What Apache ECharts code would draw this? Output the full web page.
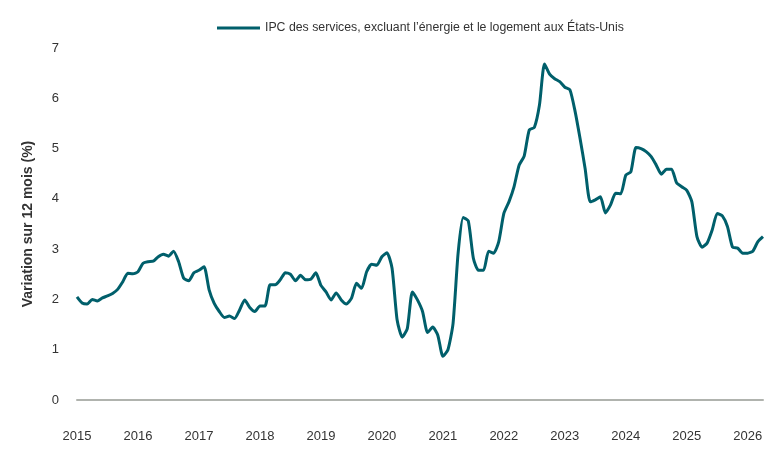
<!DOCTYPE html>
<html>
<head>
<meta charset="utf-8">
<script src="https://cdn.jsdelivr.net/npm/echarts@6/dist/echarts.min.js"></script>
<style>
  html, body { margin: 0; padding: 0; background: #fff; }
  #chart { width: 783px; height: 459px; }
</style>
</head>
<body>
<div id="chart"></div>
<script>
// Monthly values, Jan 2015 .. Apr 2026
const startYear = 2015;
const seriesName = 'IPC des services, excluant l\u2019énergie et le logement aux États-Unis';
const yearLabels = ['2015', '2016', '2017', '2018', '2019', '2020', '2021', '2022', '2023', '2024', '2025', '2026'];

const values = [
  2.05, 1.93, 1.91, 2.00, 1.97, 2.03, 2.07, 2.12, 2.20, 2.35, 2.52, 2.51,
  2.55, 2.72, 2.75, 2.76, 2.85, 2.90, 2.86, 2.96, 2.75, 2.42, 2.37, 2.53,
  2.58, 2.65, 2.19, 1.92, 1.76, 1.64, 1.67, 1.62, 1.79, 1.99, 1.84, 1.76,
  1.87, 1.87, 2.29, 2.29, 2.39, 2.53, 2.50, 2.37, 2.48, 2.39, 2.40, 2.53,
  2.28, 2.15, 1.99, 2.13, 1.99, 1.91, 2.02, 2.32, 2.22, 2.55, 2.70, 2.68,
  2.85, 2.93, 2.62, 1.59, 1.25, 1.42, 2.15, 1.99, 1.76, 1.34, 1.45, 1.29,
  0.87, 1.00, 1.52, 2.92, 3.63, 3.56, 2.82, 2.58, 2.58, 2.96, 2.92, 3.15,
  3.71, 3.94, 4.24, 4.67, 4.85, 5.37, 5.42, 5.86, 6.68, 6.48, 6.39, 6.33,
  6.22, 6.17, 5.75, 5.20, 4.60, 3.94, 3.98, 4.04, 3.72, 3.88, 4.11, 4.10,
  4.47, 4.54, 5.02, 5.00, 4.94, 4.84, 4.67, 4.49, 4.59, 4.59, 4.32, 4.24,
  4.17, 3.94, 3.25, 3.04, 3.12, 3.38, 3.71, 3.66, 3.45, 3.04, 3.02, 2.92,
  2.92, 2.96, 3.15, 3.25
];

// one category per month, labelled with the year in January
const months = values.map((v, i) => {
  const y = startYear + Math.floor(i / 12);
  const m = (i % 12) + 1;
  return y + '-' + String(m).padStart(2, '0');
});

const font = '"Liberation Sans", Arial, sans-serif';
const chart = echarts.init(document.getElementById('chart'));

chart.setOption({
  animation: false,
  color: ['#005f6b'],
  textStyle: { fontFamily: font },
  legend: {
    top: 17,
    left: 212,
    itemWidth: 43,
    itemHeight: 3,
    itemGap: 5,
    icon: 'rect',
    textStyle: { fontFamily: font, fontSize: 12.3, color: '#333' },
    data: [seriesName]
  },
  grid: { left: 77, right: 20, top: 48, bottom: 59 },
  xAxis: {
    type: 'category',
    boundaryGap: false,
    data: months,
    axisLine: { lineStyle: { color: '#b0b3ae', width: 2 } },
    axisTick: { show: false },
    axisLabel: {
      interval: 11,
      margin: 30,
      fontSize: 13,
      color: '#333',
      fontFamily: font,
      formatter: (val, idx) => yearLabels[Math.floor(idx / 12)]
    },
    splitLine: { show: false }
  },
  yAxis: {
    type: 'value',
    min: 0,
    max: 7,
    interval: 1,
    name: 'Variation sur 12 mois (%)',
    nameLocation: 'middle',
    nameGap: 42,
    nameRotate: 90,
    nameTextStyle: { fontFamily: font, fontSize: 14, fontWeight: 'bold', color: '#333' },
    axisLine: { show: false },
    axisTick: { show: false },
    axisLabel: { margin: 18, fontSize: 13, color: '#333', fontFamily: font },
    splitLine: { show: false }
  },
  series: [{
    name: seriesName,
    type: 'line',
    data: values,
    showSymbol: false,
    smooth: 0.2,
    lineStyle: { width: 3, color: '#005f6b' }
  }]
});
</script>
</body>
</html>
